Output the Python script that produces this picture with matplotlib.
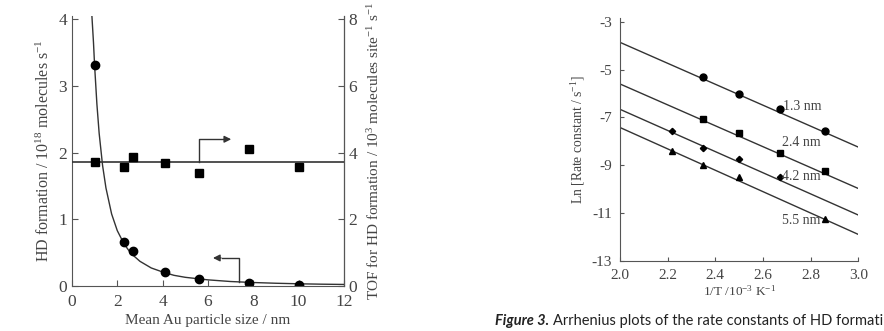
import matplotlib
matplotlib.use("Agg")
import matplotlib.pyplot as plt

plt.rcParams['font.family'] = ['Liberation Serif', 'DejaVu Serif']
plt.rcParams['mathtext.fontset'] = 'custom'
plt.rcParams['mathtext.rm'] = 'Liberation Serif'
plt.rcParams['mathtext.it'] = 'Liberation Serif:italic'
plt.rcParams['mathtext.bf'] = 'Liberation Serif:bold'

gris = "#555555"
linea = "#333333"
texto = "#444444"

# --- panel izquierdo: tamano de particula ---
size = [1.0, 2.3, 2.7, 4.1, 5.6, 7.8, 10.0]
hd_rate = [3.32, 0.66, 0.52, 0.21, 0.10, 0.05, 0.02]
tof = [3.72, 3.58, 3.86, 3.70, 3.38, 4.10, 3.56]
# curva de ajuste
curva_x = [0.88, 0.95, 1.0, 1.1, 1.2, 1.35, 1.5, 1.75, 2.0, 2.3, 2.6, 3.0, 3.5, 4.0, 4.5, 5.0, 6.0, 7.0, 8.0, 9.0, 10.0, 11.0, 12.0]
curva_y = [4.05, 3.65, 3.30, 2.73, 2.29, 1.81, 1.47, 1.08, 0.83, 0.63, 0.49, 0.37, 0.27, 0.21, 0.16, 0.13, 0.092, 0.067, 0.052, 0.041, 0.033, 0.027, 0.023]
tof_medio = 3.72

# --- panel derecho: Arrhenius ---
invT = {"1.3 nm": [2.35, 2.50, 2.67, 2.86],
        "2.4 nm": [2.35, 2.50, 2.67, 2.86],
        "4.2 nm": [2.22, 2.35, 2.50, 2.67],
        "5.5 nm": [2.22, 2.35, 2.50, 2.86]}
lnk = {"1.3 nm": [-5.30, -6.03, -6.65, -7.55],
       "2.4 nm": [-7.05, -7.65, -8.50, -9.25],
       "4.2 nm": [-7.55, -8.28, -8.75, -9.50],
       "5.5 nm": [-8.40, -9.00, -9.50, -11.25]}
ajuste = {"1.3 nm": [-3.86, -8.24],
          "2.4 nm": [-5.60, -9.97],
          "4.2 nm": [-6.66, -11.08],
          "5.5 nm": [-7.42, -11.89]}
marcas = {"1.3 nm": ("o", 5.0), "2.4 nm": ("s", 5.0), "4.2 nm": ("D", 3.2), "5.5 nm": ("^", 4.5)}
etiqueta_pos = {"1.3 nm": (2.685, -6.55), "2.4 nm": (2.68, -8.03), "4.2 nm": (2.68, -9.45), "5.5 nm": (2.68, -11.3)}

fig = plt.figure(figsize=(8.84, 3.31), dpi=100)

ax = fig.add_axes([0.0814, 0.136, 0.3076, 0.816])
ax2 = ax.twinx()
ax.plot(curva_x, curva_y, "-", color=linea, lw=1.0)
ax.plot(size, hd_rate, "o", color="black", ms=6)
ax2.plot([0, 12], [tof_medio, tof_medio], "-", color=linea, lw=1.2)
ax2.plot(size, tof, "s", color="black", ms=5.5)
ax.set_xlim(0, 12)
ax.set_ylim(0, 4.05)
ax2.set_ylim(0, 8.1)
ax.set_xticks(range(0, 13, 2))
ax.set_yticks(range(0, 5))
ax2.set_yticks(range(0, 9, 2))
ax.spines['top'].set_visible(False)
ax2.spines['top'].set_visible(False)
for s in ['left', 'bottom']:
    ax.spines[s].set_color(gris)
ax2.spines['right'].set_color(gris)
ax2.spines['left'].set_visible(False)
ax2.spines['bottom'].set_visible(False)
ax.tick_params(direction="in", length=4, colors=gris, labelsize=12.5, labelcolor=texto)
ax.tick_params(axis="x", pad=6)
ax2.tick_params(direction="in", length=4, colors=gris, labelsize=12.5, labelcolor=texto)
ax.set_xlabel("Mean Au particle size / nm", fontsize=11, color=texto, labelpad=3)
ax.set_ylabel("HD formation / 10$^{18}$ molecules s$^{-1}$", fontsize=11.5, color=texto, labelpad=4)
ax2.set_ylabel("TOF for HD formation / 10$^{3}$ molecules site$^{-1}$ s$^{-1}$", fontsize=11, color=texto, labelpad=6)
# flechas indicadoras de eje
ax2.plot([5.6, 5.6, 6.7], [tof_medio, 4.4, 4.4], color=linea, lw=1.0)
ax2.annotate("", xy=(7.15, 4.4), xytext=(6.6, 4.4),
             arrowprops=dict(arrowstyle="-|>", color=linea, lw=1.0, mutation_scale=10))
ax.plot([7.37, 7.37, 6.6], [0.06, 0.42, 0.42], color=linea, lw=1.0)
ax.annotate("", xy=(6.1, 0.42), xytext=(6.7, 0.42),
            arrowprops=dict(arrowstyle="-|>", color=linea, lw=1.0, mutation_scale=10))

bx = fig.add_axes([0.7014, 0.2115, 0.2696, 0.7335])
for k in invT:
    bx.plot([2.0, 3.0], ajuste[k], "-", color=linea, lw=1.0)
    m, ms = marcas[k]
    bx.plot(invT[k], lnk[k], m, color="black", ms=ms)
    bx.text(etiqueta_pos[k][0], etiqueta_pos[k][1], k, fontsize=10, color=texto,
            ha="left", va="center")
bx.set_xlim(2.0, 3.0)
bx.set_ylim(-13, -2.85)
bx.set_xticks([2.0, 2.2, 2.4, 2.6, 2.8, 3.0])
bx.set_xticklabels(["2.0", "2.2", "2.4", "2.6", "2.8", "3.0"])
bx.set_yticks([-3, -5, -7, -9, -11, -13])
bx.set_yticklabels(["-3", "-5", "-7", "-9", "-11", "-13"])
bx.spines['top'].set_visible(False)
bx.spines['right'].set_visible(False)
bx.spines['left'].set_color(gris)
bx.spines['bottom'].set_color(gris)
bx.tick_params(direction="in", length=3, colors=gris, labelsize=11, labelcolor=texto, pad=6)
bx.set_xlabel("1/T /10$^{-3}$ K$^{-1}$", fontsize=9.5, color=texto, labelpad=1)
bx.set_ylabel("Ln [Rate constant / s$^{-1}$]", fontsize=9.8, color=texto, labelpad=3)

fig.text(0.56, 0.018, "Figure 3.", family=["Lato", "DejaVu Sans"], fontsize=10.5,
         fontweight="bold", fontstyle="italic", color="#222222")
fig.text(0.626, 0.018, "Arrhenius plots of the rate constants of HD formati",
         family=["Lato", "DejaVu Sans"], fontsize=10.5, color="#222222")

fig.savefig("out.png", dpi=100)
